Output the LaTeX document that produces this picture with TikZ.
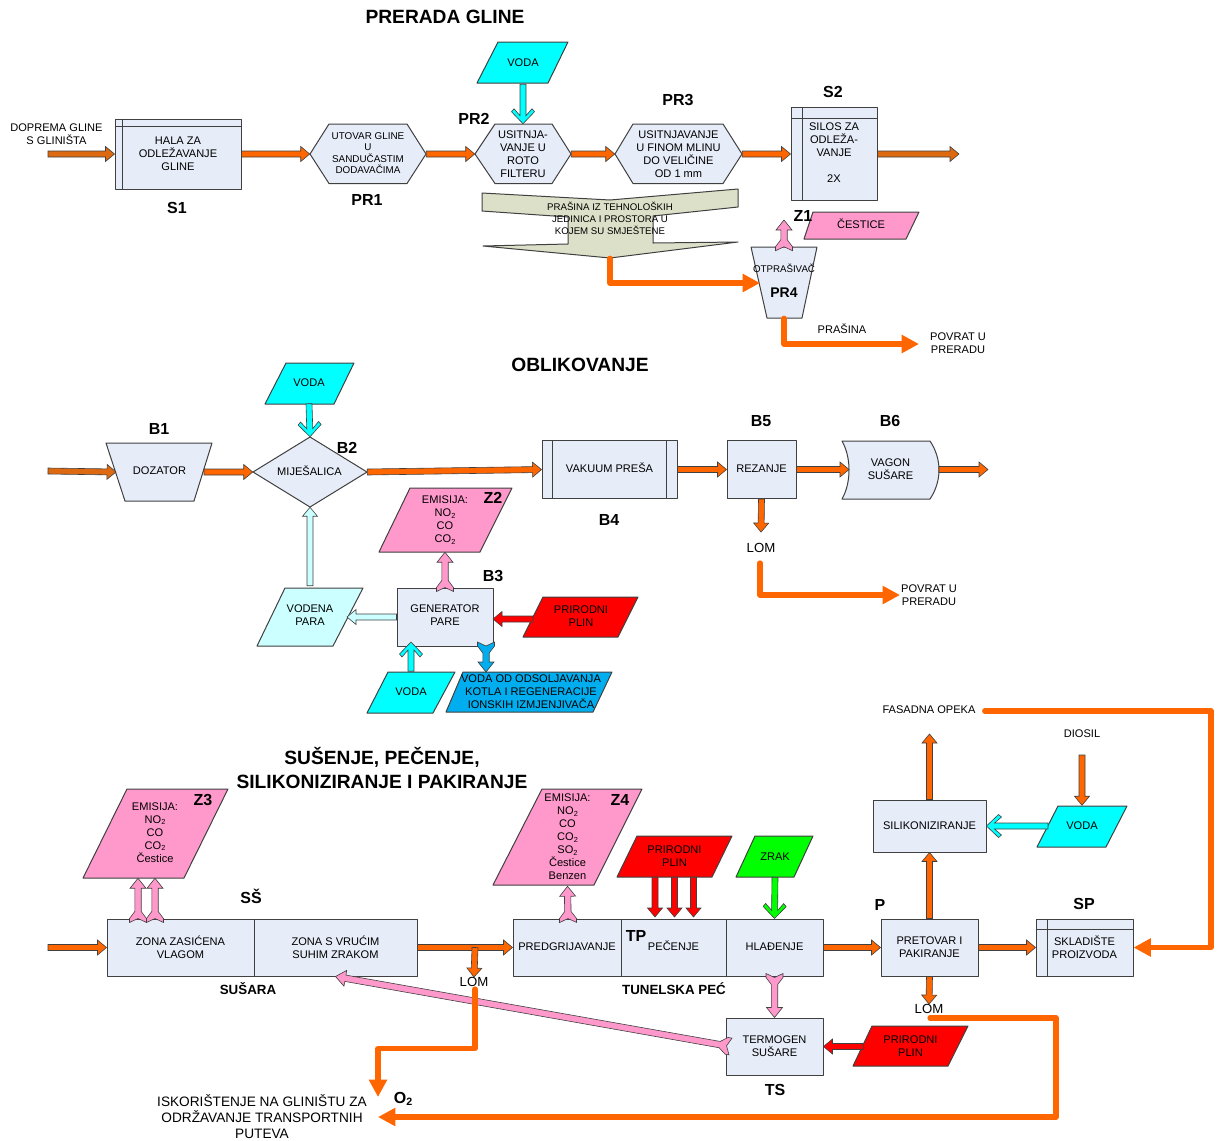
\documentclass[tikz,border=0pt]{standalone}
\usepackage{fontspec}
\setmainfont{Liberation Sans}
\usetikzlibrary{calc,arrows.meta}
\definecolor{shapeb}{HTML}{E6ECF8}
\definecolor{edgec}{HTML}{404040}
\definecolor{orT}{HTML}{FF6600}
\definecolor{orD}{HTML}{DD6A10}
\definecolor{cyanx}{HTML}{00FFFF}
\definecolor{pinkx}{HTML}{FF99CC}
\definecolor{paleC}{HTML}{CCFFFF}
\definecolor{blueB}{HTML}{00AEEF}
\definecolor{redx}{HTML}{FF0000}
\definecolor{greenx}{HTML}{00FF00}
\definecolor{olivex}{HTML}{DDE0C8}
\tikzset{
  edgeline/.style={draw=edgec,line width=0.75pt,line join=round},
  lbl/.style={inner sep=0pt,align=center,font=\fontsize{8.3}{9.75}\selectfont},
  capline/.style={text height=6pt,text depth=1pt},
  lomtxt/.style={inner sep=0pt,align=center,yshift=-0.75pt,font=\fontsize{9.9}{11}\selectfont},
  boxn/.style={lbl,rectangle,edgeline,fill=shapeb},
  tag/.style={inner sep=0pt,align=center,yshift=-0.75pt,font=\fontsize{12}{14}\selectfont\bfseries},
  tagsm/.style={inner sep=0pt,align=center,font=\fontsize{10}{12}\selectfont\bfseries},
  headline/.style={inner sep=0pt,align=center,font=\fontsize{14.4}{18}\selectfont\bfseries},
  bigtxt/.style={inner sep=0pt,align=center,font=\fontsize{10.25}{12}\selectfont},
  arrowline/.style={draw=edgec,line width=0.45pt,line join=miter},
  aO/.style={arrowline,fill=orT},
  aD/.style={arrowline,fill=orD},
  aC/.style={arrowline,fill=cyanx},
  aP/.style={arrowline,fill=pinkx},
  aL/.style={arrowline,fill=paleC},
  aB/.style={arrowline,fill=blueB},
  aR/.style={arrowline,fill=redx},
  aG/.style={arrowline,fill=greenx},
  thickor/.style={draw=orT,line width=3.9pt,line join=round,line cap=round,-{Triangle[length=13pt,width=13pt]}},
}
\newcommand\lsub[1]{{\fontsize{5.5}{5.5}\selectfont\raisebox{-1.2pt}{#1}}}
\newcommand\lsubb[1]{{\fontsize{8}{8}\selectfont\raisebox{-1.5pt}{#1}}}
% point on the line: base, other end, distance along, sideways offset (px)
\newcommand\bpt[5]{\coordinate (#1) at ($($(#2)!#4*0.75pt!(#3)$)!#5*0.75pt!90:(bb)$);}
\newcommand\tailplain[1]{\bpt{tL}{ba}{bb}{0}{#1}\bpt{tR}{ba}{bb}{0}{-#1}}
\newcommand\headpts[4]{% half shaft, shaft junction back, barb back, half barb
 \bpt{jL}{bb}{ba}{#2}{#1}\bpt{jR}{bb}{ba}{#2}{-#1}\bpt{hL}{bb}{ba}{#3}{#4}\bpt{hR}{bb}{ba}{#3}{-#4}}
% solid arrow
\newcommand\barrow[3]{\coordinate (ba) at #2;\coordinate (bb) at #3;
 \tailplain{3}\headpts{3}{9}{9}{7.5}
 \path[#1] (tL)--(jL)--(hL)--(bb)--(hR)--(jR)--(tR)--cycle;}
% arrow with swept, open barbs
\newcommand\carrow[3]{\coordinate (ba) at #2;\coordinate (bb) at #3;
 \tailplain{3}\headpts{3}{8}{12}{11.5}\bpt{iL}{bb}{ba}{15}{9}\bpt{iR}{bb}{ba}{15}{-9}
 \path[#1] (tL)--(jL)--(iL)--(hL)--(bb)--(hR)--(iR)--(jR)--(tR)--cycle;}
% arrow with swallow tail
\newcommand\sarrow[3]{\coordinate (ba) at #2;\coordinate (bb) at #3;
 \bpt{tL}{ba}{bb}{11}{3.2}\bpt{tR}{ba}{bb}{11}{-3.2}
 \bpt{tX}{ba}{bb}{0}{8.5}\bpt{tY}{ba}{bb}{0}{-8.5}
 \bpt{eX}{ba}{bb}{4}{8.5}\bpt{eY}{ba}{bb}{4}{-8.5}\bpt{tC}{ba}{bb}{4}{0}
 \headpts{3.2}{10}{10}{8}
 \path[#1] (tC)--(tX)--(eX)--(tL)--(jL)--(hL)--(bb)--(hR)--(jR)--(tR)--(eY)--(tY)--cycle;}
% shape drawn as a polygon with a named text node over it
\newcommand\pnode[7][]{\path[edgeline,fill=shapeb,#1] #6;
 \node[lbl,minimum width=#4*0.75pt,minimum height=#5*0.75pt] (#2) at (#3) {#7};}
\begin{document}
\begin{tikzpicture}[x=0.75pt,y=-0.75pt]
\useasboundingbox (0,0) rectangle (1217,1140);
% ---------- PRERADA GLINE
\node[headline] (t1) at (445,17) {PRERADA GLINE};
\node[lbl] (src1) at (56.5,134) {DOPREMA GLINE\\S GLINIŠTA};
\coordinate (in1) at (48,154);
\node[boxn,minimum width=126*0.75pt,minimum height=70*0.75pt] (S1) at (178,154) {HALA ZA\\ODLEŽAVANJE\\GLINE};
\draw[edgeline] ($(S1.north west)+(8,0)$) -- ($(S1.south west)+(8,0)$);
\draw[edgeline] ($(S1.north west)+(0,8)$) -- ($(S1.north east)+(0,8)$);
\node[tag] (lS1) at (177,207) {S1};
\pnode{PR1}{368,154}{116}{60}{(310,154)--(329,124)--(407,124)--(426,154)--(407,183.5)--(329,183.5)--cycle}{}
\node[inner sep=0pt,align=center,font=\fontsize{7.4}{8.6}\selectfont] (PR1t) at (368,153) {UTOVAR GLINE\\U\\SANDUČASTIM\\DODAVAČIMA};
\node[tag] (lPR1) at (367,199) {PR1};
\pnode{PR2}{523,154}{96}{60}{(475,154)--(495,124)--(552,124)--(571,154)--(552,183.5)--(495,183.5)--cycle}{USITNJA-\\VANJE U\\ROTO\\FILTERU}
\node[tag] (lPR2) at (474,118) {PR2};
\pnode[fill=cyanx]{V1}{523,63}{90}{42}{(498,42)--(568,42)--(548,83)--(477,83)--cycle}{VODA}
\pnode{PR3}{678.5,154}{127}{60}{(615,154)--(633,124)--(723,124)--(742,154)--(723,183.5)--(633,183.5)--cycle}{USITNJAVANJE\\U FINOM MLINU\\DO VELIČINE\\OD 1 mm}
\node[tag] (lPR3) at (678,99) {PR3};
\node[boxn,minimum width=86*0.75pt,minimum height=93.5*0.75pt] (S2) at (834,154) {};
\node[lbl] (S2t) at (834,152.5) {SILOS ZA\\ODLEŽA-\\VANJE\\[9.75pt]2X};
\draw[edgeline] ($(S2.north west)+(12,0)$) -- ($(S2.south west)+(12,0)$);
\draw[edgeline] ($(S2.north west)+(0,12)$) -- ($(S2.north east)+(0,12)$);
\node[tag] (lS2) at (833,91) {S2};
\coordinate (out1) at (959,154);
% dust collector arrow
\pnode[fill=olivex,edgeline]{DUST}{610,223.5}{256}{69}{(482,193)--(610,200)--(738,189)--(738,207)--(653,216)--(653,243)--(738,242)--(610,258)--(483,246)--(568,244)--(568,217)--(482,211)--cycle}{}
\node[inner sep=0pt,align=center,font=\fontsize{7.25}{9}\selectfont] (DUSTt) at (610,218) {PRAŠINA IZ TEHNOLOŠKIH\\JEDINICA I PROSTORA U\\KOJEM SU SMJEŠTENE};
\pnode{PR4}{784,282.5}{66}{71}{(751,247)--(817,247)--(802,318)--(767,318)--cycle}{}
\node[inner sep=0pt,font=\fontsize{7.3}{9}\selectfont] (PR4a) at (784,268) {OTPRAŠIVAČ};
\node[tag,font=\fontsize{10.5}{12}\selectfont\bfseries] (PR4b) at (784,292) {PR4};
\pnode[fill=pinkx]{C1}{861,224}{115}{27}{(813,212)--(919,212)--(906,239)--(804,239)--cycle}{ČESTICE}
\node[tag] (lZ1) at (803,215) {Z1};
\node[lbl] (pr) at (842,329) {PRAŠINA};
\node[lbl,yshift=-0.75pt] (ret1) at (958,342.5) {POVRAT U\\PRERADU};
% arrows
\barrow{aD}{(in1)}{(S1.west)}
\barrow{aO}{(S1.east)}{(PR1.west)}
\barrow{aO}{(PR1.east)}{(PR2.west)}
\barrow{aO}{(PR2.east)}{(PR3.west)}
\barrow{aO}{(PR3.east)}{(S2.west)}
\barrow{aD}{(S2.east)}{(out1)}
\carrow{aC}{(V1.south)}{(PR2.north)}
\sarrow{aP}{($(PR4.north)+(0,4)$)}{(784,220)}
\coordinate (d1) at (610,283);\coordinate (d2) at (760,283);
\draw[thickor] (DUST.south) -- (d1) -- (d2);
\coordinate (r1) at (784,344);\coordinate (r2) at (919,344);
\draw[thickor] (PR4.south) -- (r1) -- (r2);
% ---------- OBLIKOVANJE
\node[headline] (t2) at (580,365) {OBLIKOVANJE};
\coordinate (in2) at (48,471);
\pnode{B1n}{159.5,471}{106}{58}{(106,443)--(212,443)--(194,501)--(125,501)--cycle}{DOZATOR}
\node[tag] (lB1) at (159,428) {B1};
\pnode{B2n}{310,472}{114}{70}{(253,472)--(310,437)--(367,472)--(310,507)--cycle}{}
\node[lbl] (B2t) at (309.5,471) {MIJEŠALICA};
\node[tag] (lB2) at (347,447) {B2};
\pnode[fill=cyanx]{V2}{309,383}{89}{41}{(286,363)--(354,363)--(334,404)--(265,404)--cycle}{VODA}
\node[boxn,capline,minimum width=135*0.75pt,minimum height=58*0.75pt] (B4n) at (609.5,469.5) {VAKUUM PREŠA};
\draw[edgeline] ($(B4n.north west)+(11,0)$) -- ($(B4n.south west)+(11,0)$);
\draw[edgeline] ($(B4n.north east)+(-11,0)$) -- ($(B4n.south east)+(-11,0)$);
\node[tag] (lB4) at (609,519) {B4};
\node[boxn,capline,minimum width=69*0.75pt,minimum height=58*0.75pt] (B5n) at (761.5,469.5) {REZANJE};
\node[tag] (lB5) at (761,420) {B5};
\pnode{B6n}{890.5,469.5}{97}{58}{(842,441)--(930,441) .. controls (936,450) and (939,460) .. (939,470) .. controls (939,480) and (936,490) .. (930,499)--(842,499) .. controls (847,490) and (849,480) .. (849,470) .. controls (849,460) and (847,450) .. (842,441)--cycle}{VAGON\\SUŠARE}
\node[tag] (lB6) at (890,420) {B6};
\coordinate (out2) at (988,469.5);
\node[lomtxt] (lom1) at (761,547) {LOM};
\node[lbl,yshift=-0.75pt] (ret2) at (929,594.5) {POVRAT U\\PRERADU};
\pnode[fill=pinkx]{Z2p}{445,520}{133}{64}{(410,488)--(512,488)--(480,552)--(379,552)--cycle}{EMISIJA:\\NO\lsub{2}\\CO\\CO\lsub{2}}
\node[tag] (lZ2) at (493,497) {Z2};
\node[boxn,minimum width=96*0.75pt,minimum height=58*0.75pt] (B3n) at (445,617) {};
\node[lbl] (B3t) at (445,615.5) {GENERATOR\\PARE};
\node[tag] (lB3) at (493,575) {B3};
\pnode[fill=paleC]{VP}{310,615}{106}{58}{(285,588)--(363,588)--(333,646)--(257,646)--cycle}{VODENA\\PARA}
\pnode[fill=redx]{PP1}{581,616}{115}{40}{(543,597)--(638,597)--(618,637)--(523,637)--cycle}{PRIRODNI\\PLIN}
\pnode[fill=cyanx]{V3}{411,692}{88}{41}{(388,672)--(455,672)--(433,713)--(367,713)--cycle}{VODA}
\pnode[fill=blueB]{BL}{531,691.5}{166}{40}{(463,672)--(612,672)--(593,712)--(446,712)--cycle}{VODA OD ODSOLJAVANJA\\KOTLA I REGENERACIJE\\IONSKIH IZMJENJIVAČA}
% arrows
\barrow{aD}{(in2)}{(116,472)}
\barrow{aO}{(204,472)}{(B2n.west)}
\barrow{aO}{(B2n.east)}{(B4n.west)}
\barrow{aO}{(B4n.east)}{(B5n.west)}
\barrow{aO}{(B5n.east)}{(849,469.5)}
\barrow{aO}{(939,469.5)}{(out2)}
\carrow{aC}{(V2.south)}{(B2n.north)}
\barrow{aO}{(B5n.south)}{($(lom1.north)+(0,-11)$)}
\coordinate (l1) at (760,595);\coordinate (l2) at (900,595);
\draw[thickor] ($(lom1.south)+(-1,10)$) -- (l1) -- (l2);
\sarrow{aP}{($(B3n.north)+(0,4)$)}{(Z2p.south)}
\barrow{aL}{(B3n.west)}{(347,617)}
\barrow{aL}{(VP.north)}{(B2n.south)}
\barrow{aR}{(533,619)}{(493,619)}
\carrow{aC}{(V3.north)}{(411,642)}
\sarrow{aB}{(486,642)}{(486,672)}
% ---------- SUSENJE
\node[headline] (t3) at (382,768) {SUŠENJE, PEČENJE,\\SILIKONIZIRANJE I PAKIRANJE};
\pnode[fill=pinkx]{Z3p}{155,832.5}{145}{89}{(127,789)--(228,789)--(184,878)--(83,878)--cycle}{EMISIJA:\\NO\lsub{2}\\CO\\CO\lsub{2}\\Čestice}
\node[tag] (lZ3) at (203,799) {Z3};
\node[tag] (lSS) at (251,895) {SŠ};
\coordinate (in3) at (48,947.5);
\node[boxn,minimum width=147*0.75pt,minimum height=57*0.75pt] (ZA) at (180.5,947.5) {ZONA ZASIĆENA\\VLAGOM};
\node[boxn,minimum width=163*0.75pt,minimum height=57*0.75pt] (ZB) at (335.5,947.5) {ZONA S VRUĆIM\\SUHIM ZRAKOM};
\node[tagsm] (lSU) at (248,989) {SUŠARA};
\node[lomtxt] (lom2) at (474,981) {LOM};
\node[tag] (O2n) at (403,1098) {O\lsubb{2}};
\node[bigtxt] (isk) at (262,1116.5) {ISKORIŠTENJE NA GLINIŠTU ZA\\ODRŽAVANJE TRANSPORTNIH\\PUTEVA};
\pnode[fill=pinkx]{Z4p}{567.5,837}{149}{96}{(542,789)--(642,789)--(594,885)--(493,885)--cycle}{EMISIJA:\\NO\lsub{2}\\CO\\CO\lsub{2}\\SO\lsub{2}\\Čestice\\Benzen}
\node[tag] (lZ4) at (620,799) {Z4};
\node[boxn,capline,minimum width=108*0.75pt,minimum height=57*0.75pt] (PG) at (567,947.5) {PREDGRIJAVANJE};
\node[boxn,capline,minimum width=105*0.75pt,minimum height=57*0.75pt] (PC) at (673.5,947.5) {PEČENJE};
\node[boxn,capline,minimum width=97*0.75pt,minimum height=57*0.75pt] (HL) at (774.5,947.5) {HLAĐENJE};
\node[tag] (lTP) at (636,935) {TP};
\node[tagsm] (lTU) at (674,989) {TUNELSKA PEĆ};
\pnode[fill=redx]{PP2}{674.5,856.5}{115}{41}{(637,836)--(732,836)--(712,877)--(617,877)--cycle}{PRIRODNI\\PLIN}
\pnode[fill=greenx]{ZR}{775,856.5}{77}{41}{(755,836)--(813,836)--(794,877)--(736,877)--cycle}{ZRAK}
\node[boxn,minimum width=97*0.75pt,minimum height=57*0.75pt] (Pn) at (929.5,947.5) {PRETOVAR I\\PAKIRANJE};
\node[tag] (lP) at (880,904) {P};
\node[boxn,capline,minimum width=113*0.75pt,minimum height=52*0.75pt] (SL) at (929.5,826) {SILIKONIZIRANJE};
\node[lbl] (FO) at (929,710) {FASADNA OPEKA};
\node[lbl] (DI) at (1082,734) {DIOSIL};
\pnode[fill=cyanx]{V4}{1082,826}{90}{41}{(1058,806)--(1127,806)--(1106,847)--(1037,847)--cycle}{VODA}
\node[boxn,minimum width=97*0.75pt,minimum height=57*0.75pt] (SPn) at (1084.5,947.5) {SKLADIŠTE\\PROIZVODA};
\draw[edgeline] ($(SPn.north west)+(12,0)$) -- ($(SPn.south west)+(12,0)$);
\draw[edgeline] ($(SPn.north west)+(0,11)$) -- ($(SPn.north east)+(0,11)$);
\node[tag] (lSP) at (1084,903) {SP};
\node[lomtxt] (lom3) at (929,1008) {LOM};
\node[boxn,minimum width=97*0.75pt,minimum height=57*0.75pt] (TSn) at (774.5,1046.5) {TERMOGEN\\SUŠARE};
\node[tag] (lTS) at (775,1089) {TS};
\pnode[fill=redx]{PP3}{910.5,1046}{115}{40}{(872,1026)--(968,1026)--(948,1066)--(853,1066)--cycle}{PRIRODNI\\PLIN}
% arrows
\barrow{aO}{(in3)}{(ZA.west)}
\barrow{aO}{(ZB.east)}{(PG.west)}
\barrow{aO}{(475,947.5)}{(lom2.north)}
\sarrow{aP}{($(ZA.north)+(-42.5,4)$)}{($(Z3p.south)+(-17,1)$)}
\sarrow{aP}{($(ZA.north)+(-25.5,4)$)}{($(Z3p.south)+(0,1)$)}
\sarrow{aP}{($(PG.north)+(1,4)$)}{($(Z4p.south)+(0,1)$)}
\barrow{aR}{($(PP2.south)+(-19.5,0)$)}{(655,917)}
\barrow{aR}{(PP2.south)}{(674.5,917)}
\barrow{aR}{($(PP2.south)+(19,0)$)}{(693.5,917)}
\carrow{aG}{(ZR.south)}{(HL.north)}
\barrow{aO}{(HL.east)}{(Pn.west)}
\barrow{aO}{(Pn.north)}{(SL.south)}
\barrow{aO}{(SL.north)}{(929.5,734)}
\barrow{aO}{(Pn.east)}{(SPn.west)}
\barrow{aO}{(DI.south |- 0,755)}{(V4.north)}
\carrow{aC}{(1048,826)}{(SL.east)}
\barrow{aO}{(Pn.south)}{(lom3.north)}
\sarrow{aP}{($(HL.south)+(0,-3)$)}{(TSn.north)}
\barrow{aR}{(863,1046.5)}{(TSn.east)}
\sarrow{aP}{($(TSn.west)+(5,0)$)}{(ZB.south)}
\coordinate (a0) at (475,989);\coordinate (a1) at (475,1048.5);\coordinate (a2) at (378,1048.5);\coordinate (a3) at (378,1097);
\draw[thickor] (a0) -- (a1) -- (a2) -- (a3);
\coordinate (f1) at (1211,711);\coordinate (f2) at (1211,947.5);
\draw[thickor] ($(FO.east)+(9,1)$) -- (f1) -- (f2) -- (SPn.east);
\coordinate (g0) at (930,1018);\coordinate (g1) at (1056,1018);\coordinate (g2) at (1056,1117);\coordinate (g3) at (378,1117);
\draw[thickor] (g0) -- (g1) -- (g2) -- (g3);
\end{tikzpicture}
\end{document}
